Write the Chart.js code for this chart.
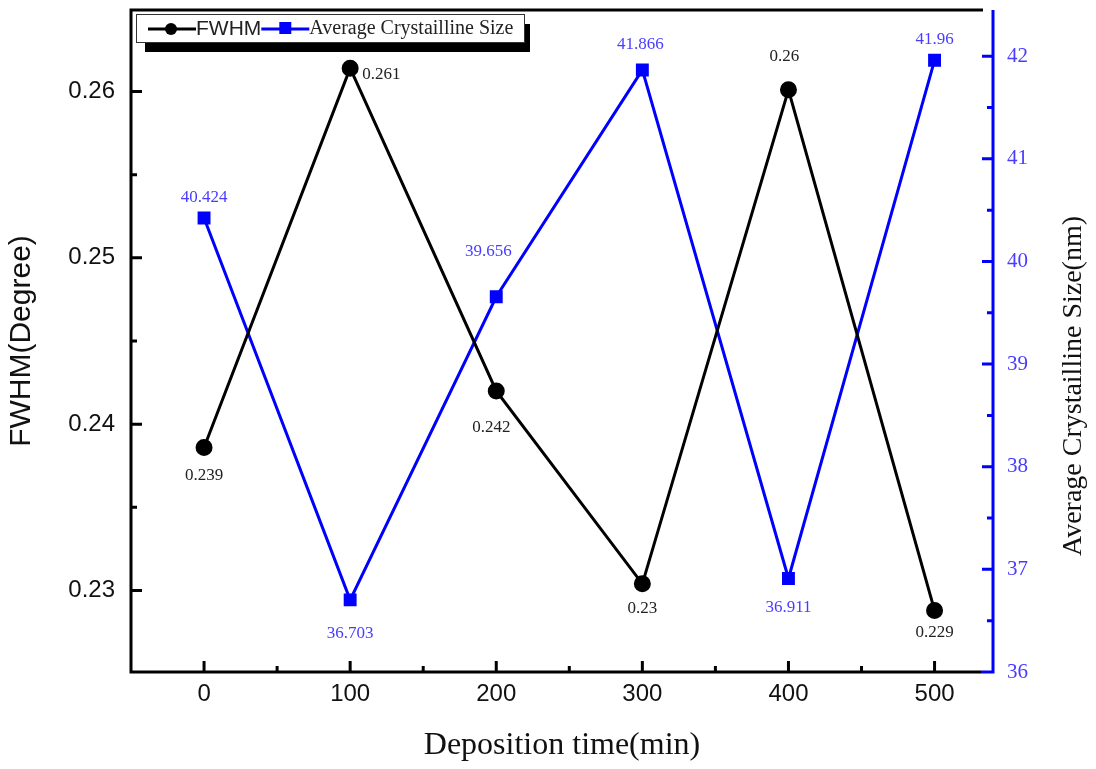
<!DOCTYPE html>
<html>
<head>
<meta charset="utf-8">
<script src="https://cdn.jsdelivr.net/npm/chart.js@4"></script>
<style>
  html, body { margin: 0; padding: 0; background: #fff; }
  #wrap { width: 1096px; height: 769px; }
</style>
</head>
<body>
<div id="wrap"><canvas id="chart" width="1096" height="769"></canvas></div>
<script>
// Deposition time (min)
const depositionTimes = [0, 100, 200, 300, 400, 500];
// FWHM in degrees (plotted) and labels shown next to points
const fwhmValues = [0.2386, 0.2614, 0.2420, 0.2304, 0.2601, 0.2288];
const fwhmLabels = ['0.239', '0.261', '0.242', '0.23', '0.26', '0.229'];
// Average crystalline size in nm
const sizeValues = [40.424, 36.703, 39.656, 41.866, 36.911, 41.96];
const sizeLabels = ['40.424', '36.703', '39.656', '41.866', '36.911', '41.96'];

const xTicks = [0, 100, 200, 300, 400, 500];
const fwhmTicks = [0.23, 0.24, 0.25, 0.26];
const sizeTicks = [36, 37, 38, 39, 40, 41, 42];

const BLUE = '#0000ff';
const LABEL_BLUE = '#4a3cff';
const SERIF = '"Liberation Serif", "Times New Roman", serif';
const SANS = '"Liberation Sans", Arial, sans-serif';

// label offsets from their point, in px: [dx, dy, align]
const fwhmLabelOffset = [[0, 28], [12, 6, 'left'], [-5, 37], [0, 25], [-4, -33], [0, 22]];
const sizeLabelOffset = [[0, -20], [0, 34], [-8, -45], [-2, -25], [0, 29], [0, -21]];

function noPad(s) {
  s.paddingTop = 0; s.paddingBottom = 0; s.paddingLeft = 0; s.paddingRight = 0;
}

const framePlugin = {
  id: 'frame',
  afterDatasetsDraw(chart) {
    const { ctx, chartArea: a, scales } = chart;
    const x = scales.x, yL = scales.y, yR = scales.y1;
    ctx.save();
    ctx.lineCap = 'butt';

    // ticks (inward)
    ctx.strokeStyle = '#000';
    ctx.lineWidth = 3;
    ctx.beginPath();
    for (let v = 0; v <= 500; v += 50) {
      const px = x.getPixelForValue(v);
      const len = v % 100 === 0 ? 11 : 6;
      ctx.moveTo(px, a.bottom); ctx.lineTo(px, a.bottom - len);
    }
    for (let k = 45; k <= 53; k++) {
      const v = k * 0.005;
      const py = yL.getPixelForValue(v);
      if (py < a.top + 2 || py > a.bottom - 2) continue;
      const len = k % 2 === 0 ? 11 : 6;
      ctx.moveTo(a.left, py); ctx.lineTo(a.left + len, py);
    }
    ctx.stroke();

    ctx.strokeStyle = BLUE;
    ctx.beginPath();
    for (let k = 73; k <= 84; k++) {
      const v = k * 0.5;
      const py = yR.getPixelForValue(v);
      const len = k % 2 === 0 ? 11 : 6;
      ctx.moveTo(a.right, py); ctx.lineTo(a.right - len, py);
    }
    ctx.stroke();

    // frame
    ctx.lineWidth = 3;
    ctx.strokeStyle = '#000';
    ctx.beginPath();
    ctx.moveTo(a.right - 10, a.top);
    ctx.lineTo(a.left, a.top);
    ctx.lineTo(a.left, a.bottom);
    ctx.lineTo(a.right - 12, a.bottom);
    ctx.stroke();
    ctx.strokeStyle = BLUE;
    ctx.beginPath();
    ctx.moveTo(a.right - 12, a.bottom);
    ctx.lineTo(a.right, a.bottom);
    ctx.lineTo(a.right, a.top);
    ctx.stroke();

    // right axis title, reading bottom to top
    ctx.fillStyle = '#111';
    ctx.font = '28px ' + SERIF;
    ctx.textAlign = 'center';
    ctx.textBaseline = 'middle';
    ctx.translate(1074, 386);
    ctx.rotate(-Math.PI / 2);
    ctx.fillText('Average Crystailline Size(nm)', 0, 0);
    ctx.restore();

    // value labels
    ctx.save();
    ctx.font = '17px ' + SERIF;
    ctx.textBaseline = 'middle';
    const put = (meta, labels, offs, color) => {
      ctx.fillStyle = color;
      meta.data.forEach((pt, i) => {
        const [dx, dy, align] = offs[i];
        ctx.textAlign = align || 'center';
        ctx.fillText(labels[i], pt.x + dx, pt.y + dy);
      });
    };
    put(chart.getDatasetMeta(0), fwhmLabels, fwhmLabelOffset, '#222');
    put(chart.getDatasetMeta(1), sizeLabels, sizeLabelOffset, LABEL_BLUE);
    ctx.restore();

    // legend box with shadow
    ctx.save();
    const bx = a.left + 5, by = a.top + 4, bw = 388, bh = 28;
    ctx.fillStyle = '#000';
    ctx.fillRect(bx + 9, by + 10, bw - 3, bh);
    ctx.fillStyle = '#fff';
    ctx.fillRect(bx, by, bw, bh);
    ctx.strokeStyle = '#333';
    ctx.lineWidth = 1;
    ctx.strokeRect(bx + 0.5, by + 0.5, bw, bh);
    const cy = by + bh / 2 + 1;
    ctx.lineWidth = 3;
    ctx.strokeStyle = '#000';
    ctx.beginPath(); ctx.moveTo(bx + 12, cy); ctx.lineTo(bx + 60, cy); ctx.stroke();
    ctx.fillStyle = '#000';
    ctx.beginPath(); ctx.arc(bx + 35, cy, 6, 0, Math.PI * 2); ctx.fill();
    ctx.font = '21px ' + SANS;
    ctx.textBaseline = 'middle';
    ctx.textAlign = 'left';
    ctx.fillStyle = '#222';
    ctx.fillText('FWHM', bx + 60, cy);
    const lx = bx + 60 + ctx.measureText('FWHM').width;
    ctx.strokeStyle = BLUE;
    ctx.beginPath(); ctx.moveTo(lx, cy); ctx.lineTo(lx + 48, cy); ctx.stroke();
    ctx.fillStyle = BLUE;
    ctx.fillRect(lx + 18, cy - 7, 12, 12);
    ctx.font = '20px ' + SERIF;
    ctx.fillStyle = '#222';
    ctx.fillText('Average Crystailline Size', lx + 48, cy);
    ctx.restore();
  }
};

new Chart(document.getElementById('chart'), {
  type: 'line',
  data: {
    datasets: [
      {
        label: 'FWHM',
        data: depositionTimes.map((t, i) => ({ x: t, y: fwhmValues[i] })),
        yAxisID: 'y',
        borderColor: '#000',
        backgroundColor: '#000',
        borderWidth: 3,
        pointStyle: 'circle',
        pointRadius: 7,
        pointHoverRadius: 7,
        tension: 0
      },
      {
        label: 'Average Crystailline Size',
        data: depositionTimes.map((t, i) => ({ x: t, y: sizeValues[i] })),
        yAxisID: 'y1',
        borderColor: BLUE,
        backgroundColor: BLUE,
        borderWidth: 3,
        pointStyle: 'rect',
        pointRadius: 7,
        pointHoverRadius: 7,
        tension: 0
      }
    ]
  },
  options: {
    responsive: false,
    animation: false,
    layout: { padding: { top: 9, left: 0, right: 0, bottom: 0 } },
    plugins: { legend: { display: false }, tooltip: { enabled: false } },
    scales: {
      x: {
        type: 'linear',
        min: -50,
        max: 540,
        afterBuildTicks: s => { s.ticks = xTicks.map(v => ({ value: v })); },
        afterFit: s => { s.height = 97; noPad(s); },
        grid: { display: false, drawTicks: false },
        border: { display: false },
        ticks: { color: '#111', font: { family: SANS, size: 24 }, padding: 8 },
        title: {
          display: true,
          text: 'Deposition time(min)',
          color: '#111',
          font: { family: SERIF, size: 32 },
          padding: { top: 8 }
        }
      },
      y: {
        position: 'left',
        min: 0.2251,
        max: 0.2649,
        afterBuildTicks: s => { s.ticks = fwhmTicks.map(v => ({ value: v })); },
        afterFit: s => { s.width = 131; noPad(s); },
        grid: { display: false, drawTicks: false },
        border: { display: false },
        ticks: {
          color: '#111',
          font: { family: SANS, size: 24 },
          padding: 16,
          callback: v => v.toFixed(2)
        },
        title: {
          display: true,
          text: 'FWHM(Degree)',
          color: '#111',
          font: { family: SANS, size: 30 },
          padding: { bottom: 0 }
        }
      },
      y1: {
        position: 'right',
        min: 36,
        max: 42.45,
        afterBuildTicks: s => { s.ticks = sizeTicks.map(v => ({ value: v })); },
        afterFit: s => { s.width = 103; noPad(s); },
        grid: { display: false, drawTicks: false },
        border: { display: false },
        ticks: { color: LABEL_BLUE, font: { family: SERIF, size: 21 }, padding: 14 }
      }
    }
  },
  plugins: [framePlugin]
});
</script>
</body>
</html>
